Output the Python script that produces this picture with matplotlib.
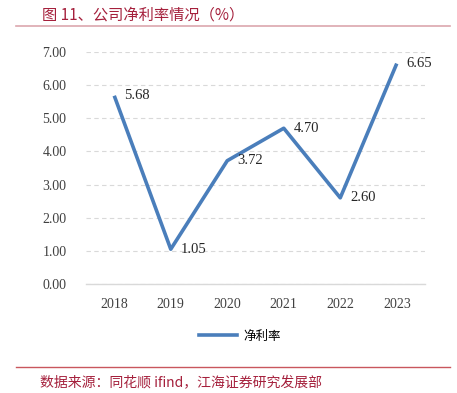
import matplotlib.pyplot as plt
from matplotlib.lines import Line2D

plt.rcParams['font.family'] = ['Liberation Serif', 'Noto Sans CJK SC']

years = ['2018', '2019', '2020', '2021', '2022', '2023']
net_margin = [5.68, 1.05, 3.72, 4.70, 2.60, 6.65]
yticks = [0, 1, 2, 3, 4, 5, 6, 7]

fig = plt.figure(figsize=(4.57, 3.93), dpi=100)
ax = fig.add_axes([86 / 457, 1 - 284 / 393, (425 - 86) / 457, (284 - 52) / 393])

x = range(len(years))
ax.plot(x, net_margin, color='#4a7ebb', linewidth=2.6, solid_capstyle='butt')

# value labels to the right of each point
for i, v in enumerate(net_margin):
    ax.annotate(f'{v:.2f}', (i, v), xytext=(7, 0), textcoords='offset points',
                ha='left', va='center', fontsize=10.5, color='#262626')

ax.set_xlim(-0.5, len(years) - 0.5)
ax.set_ylim(0, 7)
ax.set_yticks(yticks)
ax.set_yticklabels([f'{t:.2f}' for t in yticks])
ax.set_xticks(list(x))
ax.set_xticklabels(years)
ax.tick_params(length=0, labelsize=10, colors='#404040')
ax.tick_params(axis='y', pad=14)
ax.tick_params(axis='x', pad=10)
ax.grid(axis='y', color='#d9d9d9', linestyle=(0, (4, 3)), linewidth=0.8)
ax.set_axisbelow(True)
for s in ['top', 'right', 'left']:
    ax.spines[s].set_visible(False)
ax.spines['bottom'].set_color('#d9d9d9')
ax.spines['bottom'].set_linewidth(1.0)

handle = Line2D([0], [0], color='#4a7ebb', linewidth=2.6)
fig.legend([handle], ['净利率'], loc='center', bbox_to_anchor=(240 / 457, 1 - 336 / 393),
           frameon=False, prop={'family': ['Noto Sans CJK SC'], 'size': 9},
           handlelength=3.0, handletextpad=0.5)

# title and source lines
fig.text(42 / 457, 1 - 15 / 393, '图 11、公司净利率情况（%）', fontsize=11,
         color='#a5203c', va='center', family=['Noto Sans CJK SC'])
fig.add_artist(Line2D([16 / 457, 450 / 457], [1 - 26 / 393] * 2, color='#dca7ae', linewidth=1.2))
fig.add_artist(Line2D([16 / 457, 450 / 457], [1 - 367 / 393] * 2, color='#c9575e', linewidth=1.0))
fig.text(40 / 457, 1 - 382 / 393, '数据来源：同花顺 ifind，江海证券研究发展部', fontsize=10,
         color='#a5203c', va='center', family=['Noto Sans CJK SC', 'Liberation Serif'])

fig.savefig('out.png', dpi=100)
plt.close(fig)
